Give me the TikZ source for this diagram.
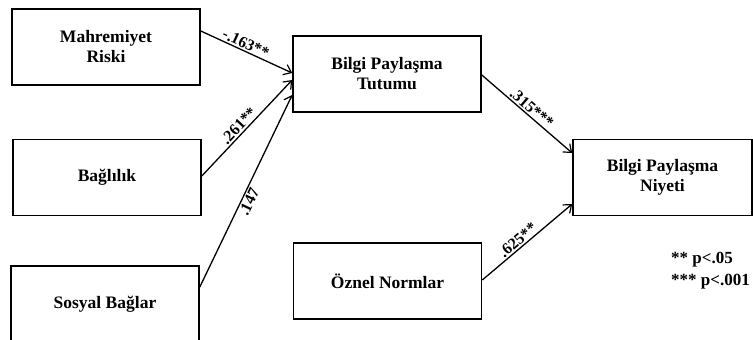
\documentclass[tikz,border=0pt]{standalone}
\usepackage{fontspec}
\setmainfont{Liberation Serif}
\usetikzlibrary{arrows.meta}
\tikzset{
  varbox/.style={draw, line width=1.6pt, minimum width=188pt, minimum height=76pt,
    inner sep=0pt, align=center, font=\fontsize{17.5}{20}\selectfont\bfseries},
  path/.style={line width=1.3pt, -{Straight Barb[length=7pt,width=11pt,line width=1.2pt]}},
  coef/.style={sloped, font=\fontsize{16}{18}\selectfont\bfseries, inner sep=1.5pt},
  note/.style={anchor=base west, inner sep=0pt, font=\fontsize{17}{20}\selectfont\bfseries}
}
\begin{document}
\begin{tikzpicture}[x=1pt,y=-1pt]
\useasboundingbox (0,0) rectangle (753,340);
\clip (0,0) rectangle (753,340);

% variables
\node[varbox] (MR)  at (106,47)    {Mahremiyet\\Riski};
\node[varbox] (BL)  at (107,177.5) {Bağlılık};
\node[varbox] (SB)  at (105,304)   {Sosyal Bağlar};
\node[varbox] (BPT) at (387,74)    {Bilgi Paylaşma\\Tutumu};
\node[varbox, minimum width=179pt] (BPN) at (662.5,177.5) {Bilgi Paylaşma\\Niyeti};
\node[varbox] (ON)  at (387.5,281) {Öznel Normlar};

% paths with standardized coefficients
\draw[path] ([yshift=16pt]MR.east) -- node[coef, pos=0.46, above] {-.163**} ([yshift=1pt]BPT.west);
\draw[path] ([yshift=1.5pt]BL.east) -- node[coef, pos=0.47, above] {.261**} ([yshift=-6pt]BPT.west);
\draw[path] ([yshift=17pt]SB.east) -- node[coef, pos=0.46, below] {.147} ([yshift=-21pt]BPT.west);
\draw[path] ([yshift=-1pt]BPT.east) -- node[coef, pos=0.5, above] {.315***} ([yshift=24.5pt]BPN.west);
\draw[path] ([yshift=1pt]ON.east) -- node[coef, pos=0.45, above] {.625**} ([yshift=-26.5pt]BPN.west);

% significance key
\node[note] (k1) at (671,263) {** p<.05};
\node[note] (k2) at (671,285) {*** p<.001};
\end{tikzpicture}
\end{document}
